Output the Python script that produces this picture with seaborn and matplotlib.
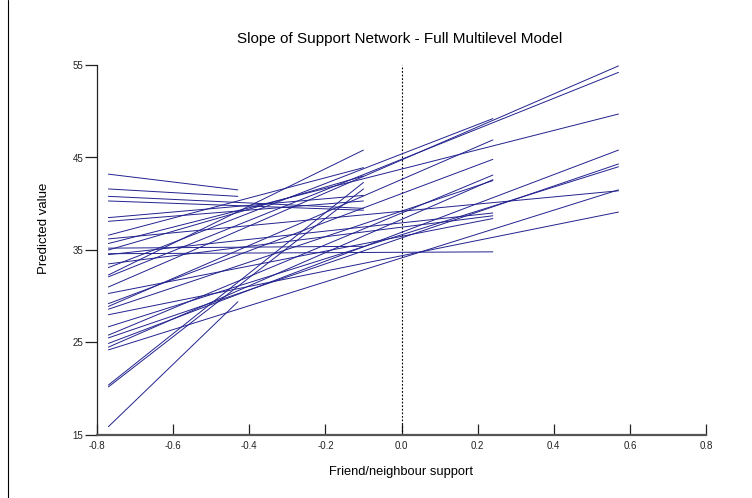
import matplotlib
matplotlib.use("Agg")
import matplotlib.pyplot as plt
import seaborn as sns
import pandas as pd
import numpy as np

# x positions of the group ranges (start and possible end points)
x_start = -0.77
end_x_levels = [-0.43, -0.10, 0.24, 0.57]

# each line: start value at x_start, end level index, end value
line_start = [43.2, 41.6, 15.9,
              35.2, 20.4, 20.2, 32.3, 40.8, 40.3, 38.5, 38.1, 36.6, 35.0,
              34.6, 33.1, 28.9, 29.2, 25.8, 24.5, 28.6, 34.5, 33.5, 30.3,
              31.0, 32.1, 35.7, 24.9, 25.5, 26.7, 24.2, 36.2, 28.0]
line_end_level = [0, 0, 0,
                  1, 1, 1, 1, 1, 1, 1, 1, 1, 1,
                  2, 2, 2, 2, 2, 2, 2, 2, 2, 2,
                  3, 3, 3, 3, 3, 3, 3, 3, 3]
line_end = [41.5, 40.8, 29.4,
            35.4, 42.3, 41.6, 45.8, 39.5, 39.3, 40.9, 40.3, 43.9, 43.0,
            34.8, 49.2, 46.9, 44.8, 43.1, 42.6, 42.5, 39.0, 38.7, 38.4,
            54.9, 54.2, 49.7, 45.8, 44.3, 44.0, 41.5, 41.4, 39.1]

xticks = [-0.8, -0.6, -0.4, -0.2, 0.0, 0.2, 0.4, 0.6, 0.8]
yticks = [15, 25, 35, 45, 55]

rows = []
for i, (ys, lev, ye) in enumerate(zip(line_start, line_end_level, line_end)):
    rows.append({"id": i, "x": x_start, "y": ys})
    rows.append({"id": i, "x": end_x_levels[lev], "y": ye})
df = pd.DataFrame(rows)

sns.set_theme(style="white")
plt.rcParams['font.family'] = ['Liberation Sans', 'DejaVu Sans']

fig = plt.figure(figsize=(7.52, 4.98), dpi=100)
ax = fig.add_axes([97/752, 63/498, (706-97)/752, (435-65)/498])

sns.lineplot(data=df, x="x", y="y", units="id", estimator=None,
             color="#22228f", lw=0.7, ax=ax, legend=False)

ax.axvline(0, color="black", lw=0.8, ls=(0, (1.6, 1.6)), zorder=1)

ax.set_xlim(-0.8, 0.8)
ax.set_ylim(15, 55)
ax.set_xticks(xticks)
ax.set_xticklabels([f"{t:.1f}" for t in xticks])
ax.set_yticks(yticks)
ax.set_yticklabels([str(t) for t in yticks])

for s in ["top", "right"]:
    ax.spines[s].set_visible(False)
ax.spines["left"].set_color("#222222")
ax.spines["left"].set_linewidth(0.9)
ax.spines["bottom"].set_color("#555555")
ax.spines["bottom"].set_linewidth(1.6)

ax.tick_params(axis="x", direction="in", length=8, width=0.9, colors="#222222",
               labelsize=7, pad=4, bottom=True)
ax.tick_params(axis="y", direction="out", length=9, width=0.9, colors="#222222",
               labelsize=7, pad=1, left=True)
for lab in ax.get_xticklabels() + ax.get_yticklabels():
    lab.set_family(['Liberation Sans Narrow', 'Liberation Sans', 'DejaVu Sans'])
    lab.set_color("#222222")

ax.set_xlabel("")
ax.set_ylabel("")
fig.text(400/752, 1 - 39/498, "Slope of Support Network - Full Multilevel Model",
         ha="center", va="center", fontsize=11, color="black")
fig.text(401/752, 1 - 472/498, "Friend/neighbour support",
         ha="center", va="center", fontsize=9.3, color="black")
fig.text(44/752, 1 - 228/498, "Predicted value", rotation=90,
         ha="center", va="center", fontsize=9.5, color="black")

# left frame line of the original graphic window
fig.add_artist(plt.Line2D([8/752, 8/752], [0, 1], color="black", lw=0.8,
                          transform=fig.transFigure))

fig.savefig("out.png", dpi=100, facecolor="white")
